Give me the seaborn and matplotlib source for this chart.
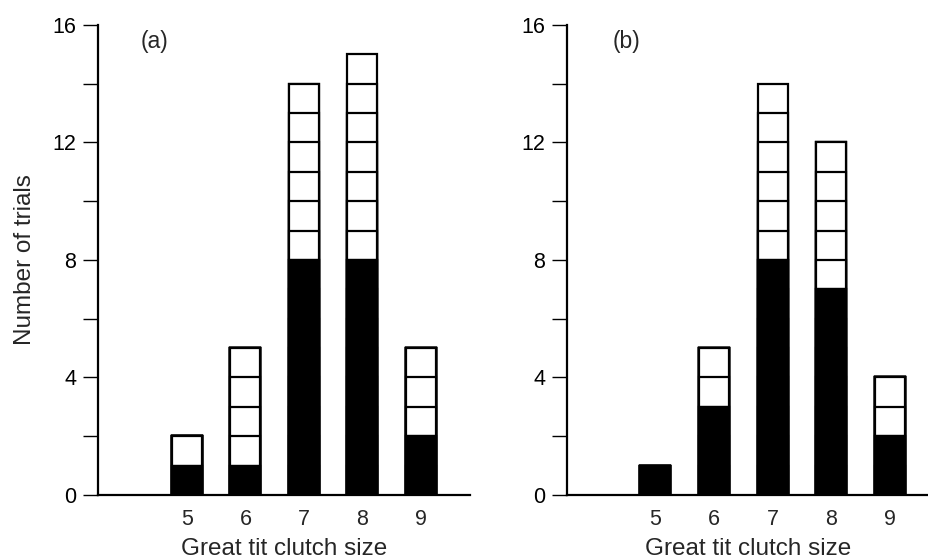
import numpy as np
import pandas as pd
import matplotlib
matplotlib.use('Agg')
import matplotlib.pyplot as plt
import seaborn as sns
from matplotlib.ticker import MultipleLocator

sns.set_style('ticks')
plt.rcParams['font.family'] = ['Liberation Sans', 'DejaVu Sans']

# 데이터
clutch_sizes = [5, 6, 7, 8, 9]
total_a = [2, 5, 14, 15, 5]
black_a = [1, 1, 8, 8, 2]
total_b = [1, 5, 14, 12, 4]
black_b = [1, 3, 8, 7, 2]
panel_labels = ['(a)', '(b)']

fig = plt.figure(figsize=(9.29, 5.59), dpi=100)
ax_a = fig.add_axes([0.1055, 0.1145, 0.4004, 0.8408])
ax_b = fig.add_axes([0.6103, 0.1145, 0.3897, 0.8408])

panels = [
    (ax_a, total_a, black_a, (3.48, 9.84)),
    (ax_b, total_b, black_b, (3.5, 9.66)),
]

for i, (ax, total, black, xlim) in enumerate(panels):
    df = pd.DataFrame({'size': clutch_sizes, 'total': total, 'black': black})
    # 흰색 칸: 위에서부터 한 칸씩 겹쳐 그려서 단위 구분선을 만든다
    for k in range(max(total), 0, -1):
        df['layer'] = np.minimum(df['total'], k)
        sns.barplot(data=df, x='size', y='layer', native_scale=True, width=0.51,
                    color='white', edgecolor='black', linewidth=1.6,
                    errorbar=None, saturation=1, ax=ax)
    sns.barplot(data=df, x='size', y='black', native_scale=True, width=0.51,
                color='black', edgecolor='black', linewidth=1.6,
                errorbar=None, saturation=1, ax=ax)

    ax.set_xlim(*xlim)
    ax.set_ylim(0, 16)
    ax.set_xticks(clutch_sizes)
    ax.set_xticklabels([str(s) for s in clutch_sizes])
    ax.yaxis.set_major_locator(MultipleLocator(4))
    ax.yaxis.set_minor_locator(MultipleLocator(2))
    ax.tick_params(axis='y', which='both', direction='out', length=10.5,
                   width=1.0, labelsize=15.5, pad=5, colors='black')
    ax.tick_params(axis='x', length=0, labelsize=15.5, pad=10)
    ax.set_xlabel('Great tit clutch size', fontsize=17.5, labelpad=5.5)
    ax.set_ylabel('Number of trials' if i == 0 else '', fontsize=17.5, labelpad=12)
    for side in ['top', 'right']:
        ax.spines[side].set_visible(False)
    for side in ['left', 'bottom']:
        ax.spines[side].set_linewidth(1.6)
        ax.spines[side].set_color('black')
    ax.text(4.45 if i == 0 else 4.52, 15.45, panel_labels[i], fontsize=16.5,
            ha='center', va='center')

plt.savefig('out.png', dpi=100)
plt.close()
